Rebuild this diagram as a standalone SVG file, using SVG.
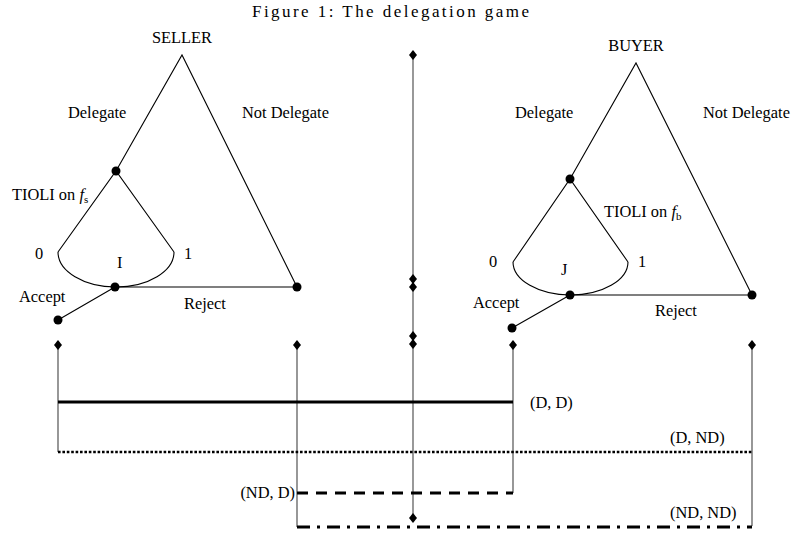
<svg xmlns="http://www.w3.org/2000/svg" width="793" height="533" viewBox="0 0 793 533">
<defs>
<style>
text{font-family:"Liberation Serif","Times New Roman",serif;font-size:16.4px;fill:#000}
.title{font-size:17px}
.e{stroke:#000;stroke-width:1.1;fill:none}
.m{stroke:#444;stroke-width:1.1;fill:none}
.dot{fill:#000}
.thick{stroke:#000;stroke-width:3;fill:none}
.dotted{stroke:#000;stroke-width:2.6;stroke-dasharray:2.6 1.8;fill:none}
.dashed{stroke:#000;stroke-width:3;stroke-dasharray:11 8;fill:none}
.dashdot{stroke:#000;stroke-width:3;stroke-dasharray:13 7 3 7;fill:none}
</style>
<path id="dm" d="M0,-5 L4,0 L0,5 L-4,0 Z" fill="#000"/>
</defs>
<text class="title" x="252" y="17" textLength="277" lengthAdjust="spacing">Figure 1: The delegation game</text>

<g id="seller">
<text x="182" y="43" text-anchor="middle">SELLER</text>
<path class="e" d="M116,171 L182,55 L297,287"/>
<path class="e" d="M58,252 L116,171 L174,252"/>
<path class="e" d="M58,252 A58,35 0 0 0 174,252"/>
<path class="e" d="M115,287 L297,287 M115,287 L58,320"/>
<circle class="dot" cx="116" cy="171" r="4.5"/>
<circle class="dot" cx="115" cy="287" r="4.5"/>
<circle class="dot" cx="297" cy="287" r="4.5"/>
<circle class="dot" cx="58" cy="320" r="4.5"/>
<text x="68" y="118">Delegate</text>
<text x="242" y="118">Not Delegate</text>
<text x="12" y="200">TIOLI on <tspan font-style="italic">f</tspan><tspan font-size="11" dy="3">s</tspan></text>
<text x="35" y="259">0</text>
<text x="184" y="259">1</text>
<text x="117" y="268">I</text>
<text x="19" y="302">Accept</text>
<text x="184" y="309">Reject</text>
</g>

<g id="buyer">
<text x="636" y="51" text-anchor="middle">BUYER</text>
<path class="e" d="M570,179 L636,63 L752,295"/>
<path class="e" d="M513,262 L570,179 L628,262"/>
<path class="e" d="M513,262 A57.5,33 0 0 0 628,262"/>
<path class="e" d="M570,295 L752,295 M570,295 L512,328"/>
<circle class="dot" cx="570" cy="179" r="4.5"/>
<circle class="dot" cx="570" cy="295" r="4.5"/>
<circle class="dot" cx="752" cy="295" r="4.5"/>
<circle class="dot" cx="512" cy="328" r="4.5"/>
<text x="515" y="118">Delegate</text>
<text x="703" y="118">Not Delegate</text>
<text x="604" y="217">TIOLI on <tspan font-style="italic">f</tspan><tspan font-size="11" dy="3">b</tspan></text>
<text x="489" y="267">0</text>
<text x="638" y="267">1</text>
<text x="561" y="275">J</text>
<text x="473" y="308">Accept</text>
<text x="655" y="316">Reject</text>
</g>

<g id="middle">
<line class="m" x1="413" y1="55" x2="413" y2="518"/>
<use href="#dm" x="413" y="55"/>
<use href="#dm" x="413" y="279"/>
<use href="#dm" x="413" y="287"/>
<use href="#dm" x="413" y="336"/>
<use href="#dm" x="413" y="344"/>
<use href="#dm" x="413" y="518"/>
</g>

<g id="connectors">
<path class="m" d="M58,345 V452 M297,345 V527 M513,345 V493 M752,345 V526"/>
<line class="thick" x1="58" y1="402" x2="513" y2="402"/>
<line class="dotted" x1="58" y1="452" x2="752" y2="452"/>
<line class="dashed" x1="297" y1="493" x2="513" y2="493"/>
<line class="dashdot" x1="297" y1="527" x2="752" y2="527"/>
<use href="#dm" x="58" y="345"/>
<use href="#dm" x="297" y="345"/>
<use href="#dm" x="513" y="345"/>
<use href="#dm" x="752" y="345"/>
<text x="530" y="408">(D, D)</text>
<text x="670" y="443">(D, ND)</text>
<text x="295" y="498" text-anchor="end">(ND, D)</text>
<text x="670" y="518">(ND, ND)</text>
</g>
</svg>
